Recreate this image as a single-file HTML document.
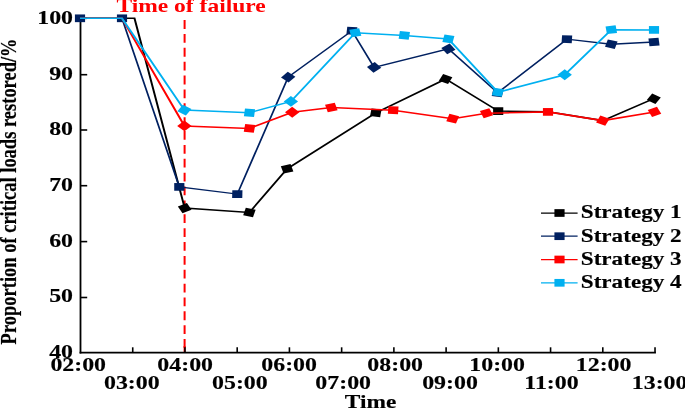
<!DOCTYPE html>
<html><head><meta charset="utf-8"><style>
html,body{margin:0;padding:0;background:#fff;}
.g{filter:grayscale(1);}
body{width:685px;height:408px;overflow:hidden;}
svg{display:block;filter:blur(0.35px);}
svg{font-family:"Liberation Serif",serif;font-weight:bold;}
</style></head><body>
<div><svg width="685" height="408" viewBox="0 0 685 408">
<defs><filter id="gs" x="-5%" y="-20%" width="110%" height="140%"><feColorMatrix type="saturate" values="0"/></filter><filter id="id" x="-5%" y="-20%" width="110%" height="140%"><feOffset dx="0" dy="0"/></filter></defs>
<line x1="184.6" y1="20.1" x2="184.6" y2="352.6" stroke="#FF0000" stroke-width="2" stroke-dasharray="8.8 5.07"/>
<line x1="184.6" y1="346" x2="184.6" y2="352.6" stroke="#FF0000" stroke-width="2"/>
<line x1="80.5" y1="17" x2="80.5" y2="353.6" stroke="#000" stroke-width="1.8"/>
<line x1="79.6" y1="352.6" x2="655.93" y2="352.6" stroke="#000" stroke-width="1.8"/>
<line x1="132.73" y1="352.6" x2="132.73" y2="347.3" stroke="#000" stroke-width="1.6"/>
<line x1="184.95999999999998" y1="352.6" x2="184.95999999999998" y2="347.3" stroke="#000" stroke-width="1.6"/>
<line x1="237.19" y1="352.6" x2="237.19" y2="347.3" stroke="#000" stroke-width="1.6"/>
<line x1="289.41999999999996" y1="352.6" x2="289.41999999999996" y2="347.3" stroke="#000" stroke-width="1.6"/>
<line x1="341.65" y1="352.6" x2="341.65" y2="347.3" stroke="#000" stroke-width="1.6"/>
<line x1="393.88" y1="352.6" x2="393.88" y2="347.3" stroke="#000" stroke-width="1.6"/>
<line x1="446.10999999999996" y1="352.6" x2="446.10999999999996" y2="347.3" stroke="#000" stroke-width="1.6"/>
<line x1="498.34" y1="352.6" x2="498.34" y2="347.3" stroke="#000" stroke-width="1.6"/>
<line x1="550.5699999999999" y1="352.6" x2="550.5699999999999" y2="347.3" stroke="#000" stroke-width="1.6"/>
<line x1="602.8" y1="352.6" x2="602.8" y2="347.3" stroke="#000" stroke-width="1.6"/>
<line x1="655.03" y1="352.6" x2="655.03" y2="347.3" stroke="#000" stroke-width="1.6"/>
<line x1="80.5" y1="297.5" x2="87.2" y2="297.5" stroke="#000" stroke-width="1.6"/>
<line x1="80.5" y1="241.6" x2="87.2" y2="241.6" stroke="#000" stroke-width="1.6"/>
<line x1="80.5" y1="185.7" x2="87.2" y2="185.7" stroke="#000" stroke-width="1.6"/>
<line x1="80.5" y1="130.0" x2="87.2" y2="130.0" stroke="#000" stroke-width="1.6"/>
<line x1="80.5" y1="74.7" x2="87.2" y2="74.7" stroke="#000" stroke-width="1.6"/>
<line x1="80.5" y1="18.3" x2="87.2" y2="18.3" stroke="#000" stroke-width="1.6"/>
<g filter="url(#gs)"><text transform="translate(73.0,357.5) scale(1.29,1)" font-size="18.5" fill="#000" stroke="#000" stroke-width="0.15" text-anchor="end" >40</text></g>
<g filter="url(#gs)"><text transform="translate(73.0,302.4) scale(1.29,1)" font-size="18.5" fill="#000" stroke="#000" stroke-width="0.15" text-anchor="end" >50</text></g>
<g filter="url(#gs)"><text transform="translate(73.0,246.5) scale(1.29,1)" font-size="18.5" fill="#000" stroke="#000" stroke-width="0.15" text-anchor="end" >60</text></g>
<g filter="url(#gs)"><text transform="translate(73.0,190.6) scale(1.29,1)" font-size="18.5" fill="#000" stroke="#000" stroke-width="0.15" text-anchor="end" >70</text></g>
<g filter="url(#gs)"><text transform="translate(73.0,134.9) scale(1.29,1)" font-size="18.5" fill="#000" stroke="#000" stroke-width="0.15" text-anchor="end" >80</text></g>
<g filter="url(#gs)"><text transform="translate(73.0,79.60000000000001) scale(1.29,1)" font-size="18.5" fill="#000" stroke="#000" stroke-width="0.15" text-anchor="end" >90</text></g>
<g filter="url(#gs)"><text transform="translate(73.0,24.200000000000003) scale(1.29,1)" font-size="18.5" fill="#000" stroke="#000" stroke-width="0.15" text-anchor="end" >100</text></g>
<g filter="url(#gs)"><text transform="translate(78.2,371.3) scale(1.29,1)" font-size="18.5" fill="#000" stroke="#000" stroke-width="0.15" text-anchor="middle" >02:00</text></g>
<g filter="url(#gs)"><text transform="translate(131.82999999999998,389.3) scale(1.29,1)" font-size="18.5" fill="#000" stroke="#000" stroke-width="0.15" text-anchor="middle" >03:00</text></g>
<g filter="url(#gs)"><text transform="translate(185.15999999999997,371.3) scale(1.29,1)" font-size="18.5" fill="#000" stroke="#000" stroke-width="0.15" text-anchor="middle" >04:00</text></g>
<g filter="url(#gs)"><text transform="translate(239.89,389.3) scale(1.29,1)" font-size="18.5" fill="#000" stroke="#000" stroke-width="0.15" text-anchor="middle" >05:00</text></g>
<g filter="url(#gs)"><text transform="translate(289.11999999999995,371.3) scale(1.29,1)" font-size="18.5" fill="#000" stroke="#000" stroke-width="0.15" text-anchor="middle" >06:00</text></g>
<g filter="url(#gs)"><text transform="translate(343.15,389.3) scale(1.29,1)" font-size="18.5" fill="#000" stroke="#000" stroke-width="0.15" text-anchor="middle" >07:00</text></g>
<g filter="url(#gs)"><text transform="translate(395.18,371.3) scale(1.29,1)" font-size="18.5" fill="#000" stroke="#000" stroke-width="0.15" text-anchor="middle" >08:00</text></g>
<g filter="url(#gs)"><text transform="translate(450.00999999999993,389.3) scale(1.29,1)" font-size="18.5" fill="#000" stroke="#000" stroke-width="0.15" text-anchor="middle" >09:00</text></g>
<g filter="url(#gs)"><text transform="translate(497.14,371.3) scale(1.29,1)" font-size="18.5" fill="#000" stroke="#000" stroke-width="0.15" text-anchor="middle" >10:00</text></g>
<g filter="url(#gs)"><text transform="translate(551.4699999999999,389.3) scale(1.29,1)" font-size="18.5" fill="#000" stroke="#000" stroke-width="0.15" text-anchor="middle" >11:00</text></g>
<g filter="url(#gs)"><text transform="translate(603.5999999999999,371.3) scale(1.29,1)" font-size="18.5" fill="#000" stroke="#000" stroke-width="0.15" text-anchor="middle" >12:00</text></g>
<g filter="url(#gs)"><text transform="translate(659.63,389.3) scale(1.29,1)" font-size="18.5" fill="#000" stroke="#000" stroke-width="0.15" text-anchor="middle" >13:00</text></g>
<g filter="url(#gs)"><text transform="translate(370.5,407.8) scale(1.265,1)" font-size="18.5" fill="#000" stroke="#000" stroke-width="0.15" text-anchor="middle" >Time</text></g>
<g filter="url(#gs)"><text transform="translate(15.5,191.4) rotate(-90) scale(1,1.3)" font-size="18.5" stroke="#000" stroke-width="0.15" text-anchor="middle">Proportion of critical loads restored/%</text></g>
<g filter="url(#id)"><text transform="translate(116.4,12.0) scale(1.307,1)" font-size="18" fill="#FF0000" stroke="#FF0000" stroke-width="0" text-anchor="start" >Time of failure</text></g>
<polyline transform="scale(1.32,1)" points="60.606,18.3 101.894,18.3 139.924,208.1 188.939,212.5 217.500,168.8 284.697,112.8 337.576,79 377.424,111.1 415.152,111.8 456.667,120.6 495.303,98.7" fill="none" stroke="#000000" stroke-width="1.5" stroke-linejoin="miter"/>
<rect x="-3.85" y="-3.85" width="7.7" height="7.7" fill="#000000" transform="translate(184.7,208.1) scale(1.32,1) rotate(-27)"/>
<rect x="-3.85" y="-3.85" width="7.7" height="7.7" fill="#000000" transform="translate(249.4,212.5) scale(1.32,1) rotate(15)"/>
<rect x="-3.85" y="-3.85" width="7.7" height="7.7" fill="#000000" transform="translate(287.1,168.8) scale(1.32,1) rotate(-16)"/>
<rect x="-3.85" y="-3.85" width="7.7" height="7.7" fill="#000000" transform="translate(375.8,112.8) scale(1.32,1) rotate(8)"/>
<rect x="-3.85" y="-3.85" width="7.7" height="7.7" fill="#000000" transform="translate(445.6,79) scale(1.32,1) rotate(25)"/>
<rect x="-3.85" y="-3.85" width="7.7" height="7.7" fill="#000000" transform="translate(498.2,111.1) scale(1.32,1) rotate(0)"/>
<rect x="-3.85" y="-3.85" width="7.7" height="7.7" fill="#000000" transform="translate(653.8,98.7) scale(1.32,1) rotate(32)"/>
<polyline transform="scale(1.32,1)" points="60.606,18.3 92.424,18.3 135.833,186.9 179.773,194.1 218.333,77.1 266.591,30.8 283.409,67.4 339.697,48.9 376.970,92.8 429.470,39.2 463.106,44.2 495.455,42" fill="none" stroke="#002060" stroke-width="1.35" stroke-linejoin="miter"/>
<rect x="-3.85" y="-3.85" width="7.7" height="7.7" fill="#002060" transform="translate(80,18.3) scale(1.32,1) rotate(0)"/>
<rect x="-3.85" y="-3.85" width="7.7" height="7.7" fill="#002060" transform="translate(122,18.3) scale(1.32,1) rotate(0)"/>
<rect x="-3.85" y="-3.85" width="7.7" height="7.7" fill="#002060" transform="translate(179.3,186.9) scale(1.32,1) rotate(0)"/>
<rect x="-3.85" y="-3.85" width="7.7" height="7.7" fill="#002060" transform="translate(237.3,194.1) scale(1.32,1) rotate(1)"/>
<rect x="-3.85" y="-3.85" width="7.7" height="7.7" fill="#002060" transform="translate(288.2,77.1) scale(1.32,1) rotate(42)"/>
<rect x="-3.85" y="-3.85" width="7.7" height="7.7" fill="#002060" transform="translate(351.9,30.8) scale(1.32,1) rotate(5)"/>
<rect x="-3.85" y="-3.85" width="7.7" height="7.7" fill="#002060" transform="translate(374.1,67.4) scale(1.32,1) rotate(50)"/>
<rect x="-3.85" y="-3.85" width="7.7" height="7.7" fill="#002060" transform="translate(448.4,48.9) scale(1.32,1) rotate(55)"/>
<rect x="-3.85" y="-3.85" width="7.7" height="7.7" fill="#002060" transform="translate(497.6,92.8) scale(1.32,1) rotate(10)"/>
<rect x="-3.85" y="-3.85" width="7.7" height="7.7" fill="#002060" transform="translate(566.9,39.2) scale(1.32,1) rotate(3)"/>
<rect x="-3.85" y="-3.85" width="7.7" height="7.7" fill="#002060" transform="translate(611.3,44.2) scale(1.32,1) rotate(16)"/>
<rect x="-3.85" y="-3.85" width="7.7" height="7.7" fill="#002060" transform="translate(654,42) scale(1.32,1) rotate(-6)"/>
<polyline transform="scale(1.32,1)" points="60.606,18.3 92.424,18.3 139.697,125.9 189.015,128.4 221.364,112.2 250.985,107.5 297.879,110.2 342.955,118.7 368.561,113.2 415.152,111.9 456.667,120.6 495.833,111.9" fill="none" stroke="#FF0000" stroke-width="1.55" stroke-linejoin="miter"/>
<rect x="-3.85" y="-3.85" width="7.7" height="7.7" fill="#FF0000" transform="translate(184.4,125.9) scale(1.32,1) rotate(45)"/>
<rect x="-3.85" y="-3.85" width="7.7" height="7.7" fill="#FF0000" transform="translate(249.5,128.4) scale(1.32,1) rotate(8)"/>
<rect x="-3.85" y="-3.85" width="7.7" height="7.7" fill="#FF0000" transform="translate(292.2,112.2) scale(1.32,1) rotate(45)"/>
<rect x="-3.85" y="-3.85" width="7.7" height="7.7" fill="#FF0000" transform="translate(331.3,107.5) scale(1.32,1) rotate(-16)"/>
<rect x="-3.85" y="-3.85" width="7.7" height="7.7" fill="#FF0000" transform="translate(393.2,110.2) scale(1.32,1) rotate(3)"/>
<rect x="-3.85" y="-3.85" width="7.7" height="7.7" fill="#FF0000" transform="translate(452.7,118.7) scale(1.32,1) rotate(18)"/>
<rect x="-3.85" y="-3.85" width="7.7" height="7.7" fill="#FF0000" transform="translate(486.5,113.2) scale(1.32,1) rotate(-22)"/>
<rect x="-3.85" y="-3.85" width="7.7" height="7.7" fill="#FF0000" transform="translate(548,111.9) scale(1.32,1) rotate(0)"/>
<rect x="-3.85" y="-3.85" width="7.7" height="7.7" fill="#FF0000" transform="translate(602.8,120.6) scale(1.32,1) rotate(25)"/>
<rect x="-3.85" y="-3.85" width="7.7" height="7.7" fill="#FF0000" transform="translate(654.5,111.9) scale(1.32,1) rotate(-25)"/>
<polyline transform="scale(1.32,1)" points="60.606,18.3 92.424,18.3 139.697,110.1 189.015,112.7 220.379,101.4 269.167,32.7 306.288,35.4 339.697,39 377.197,92.3 427.803,74.8 463.106,29.7 495.455,29.9" fill="none" stroke="#00B0F0" stroke-width="1.55" stroke-linejoin="miter"/>
<rect x="-3.85" y="-3.85" width="7.7" height="7.7" fill="#00B0F0" transform="translate(184.4,110.1) scale(1.32,1) rotate(33)"/>
<rect x="-3.85" y="-3.85" width="7.7" height="7.7" fill="#00B0F0" transform="translate(249.5,112.7) scale(1.32,1) rotate(6)"/>
<rect x="-3.85" y="-3.85" width="7.7" height="7.7" fill="#00B0F0" transform="translate(290.9,101.4) scale(1.32,1) rotate(45)"/>
<rect x="-3.85" y="-3.85" width="7.7" height="7.7" fill="#00B0F0" transform="translate(355.3,32.7) scale(1.32,1) rotate(-12)"/>
<rect x="-3.85" y="-3.85" width="7.7" height="7.7" fill="#00B0F0" transform="translate(404.3,35.4) scale(1.32,1) rotate(7)"/>
<rect x="-3.85" y="-3.85" width="7.7" height="7.7" fill="#00B0F0" transform="translate(448.4,39) scale(1.32,1) rotate(12)"/>
<rect x="-3.85" y="-3.85" width="7.7" height="7.7" fill="#00B0F0" transform="translate(497.9,92.3) scale(1.32,1) rotate(12)"/>
<rect x="-3.85" y="-3.85" width="7.7" height="7.7" fill="#00B0F0" transform="translate(564.7,74.8) scale(1.32,1) rotate(45)"/>
<rect x="-3.85" y="-3.85" width="7.7" height="7.7" fill="#00B0F0" transform="translate(611.3,29.7) scale(1.32,1) rotate(-8)"/>
<rect x="-3.85" y="-3.85" width="7.7" height="7.7" fill="#00B0F0" transform="translate(654,29.9) scale(1.32,1) rotate(0)"/>
<line x1="541" y1="213.0" x2="577.6" y2="213.0" stroke="#000000" stroke-width="1.25"/>
<rect x="-3.85" y="-3.85" width="7.7" height="7.7" fill="#000000" transform="translate(559.5,213.0) scale(1.32,1) rotate(0)"/>
<g filter="url(#gs)"><text transform="translate(580.8,218.4) scale(1.25,1)" font-size="18.5" fill="#000" stroke="#000" stroke-width="0.15" text-anchor="start" >Strategy 1</text></g>
<line x1="541" y1="236.2" x2="577.6" y2="236.2" stroke="#002060" stroke-width="1.25"/>
<rect x="-3.85" y="-3.85" width="7.7" height="7.7" fill="#002060" transform="translate(559.5,236.2) scale(1.32,1) rotate(0)"/>
<g filter="url(#gs)"><text transform="translate(580.8,241.6) scale(1.25,1)" font-size="18.5" fill="#000" stroke="#000" stroke-width="0.15" text-anchor="start" >Strategy 2</text></g>
<line x1="541" y1="259.5" x2="577.6" y2="259.5" stroke="#FF0000" stroke-width="1.25"/>
<rect x="-3.85" y="-3.85" width="7.7" height="7.7" fill="#FF0000" transform="translate(559.5,259.5) scale(1.32,1) rotate(0)"/>
<g filter="url(#gs)"><text transform="translate(580.8,264.9) scale(1.25,1)" font-size="18.5" fill="#000" stroke="#000" stroke-width="0.15" text-anchor="start" >Strategy 3</text></g>
<line x1="541" y1="282.8" x2="577.6" y2="282.8" stroke="#00B0F0" stroke-width="1.25"/>
<rect x="-3.85" y="-3.85" width="7.7" height="7.7" fill="#00B0F0" transform="translate(559.5,282.8) scale(1.32,1) rotate(0)"/>
<g filter="url(#gs)"><text transform="translate(580.8,288.2) scale(1.25,1)" font-size="18.5" fill="#000" stroke="#000" stroke-width="0.15" text-anchor="start" >Strategy 4</text></g>
</svg></div>
</body></html>
